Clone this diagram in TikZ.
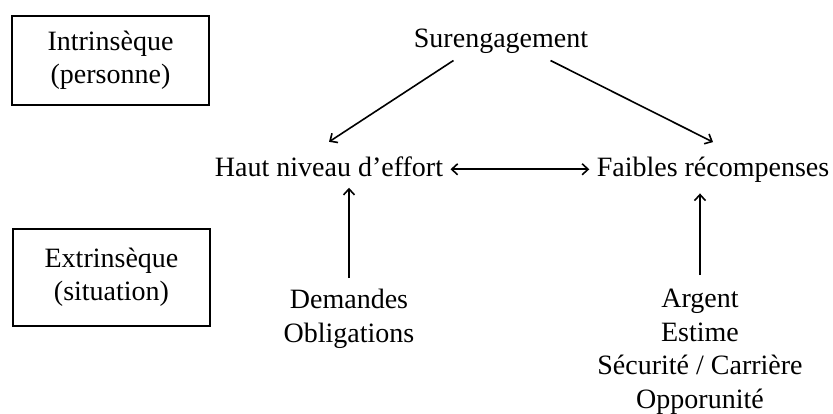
\documentclass[tikz,border=0pt]{standalone}
\usepackage{fontspec}
\setmainfont{Liberation Serif}
\usepackage{tikz}
\usetikzlibrary{arrows.meta}

\begin{document}
\begin{tikzpicture}[
                x=0.5pt,y=-0.5pt,
                line width=0.8pt,
                >={Straight Barb[length=3pt,width=5.5pt]},
                terme/.style={align=center,text=black,font=\fontsize{14}{16.7}\selectfont},
                cadre/.style={terme,draw,line width=1pt,minimum width=98.5pt,inner sep=0pt},
                fleche/.style={->,draw=black}] %

                    \useasboundingbox (0,0) rectangle (833,413);

                    % niveaux
                    \node[cadre,minimum height=44.5pt] (CadreA) at (110.5,60.5) {Intrinsèque\\(personne)}; % 1
                    \node[cadre,minimum height=48.5pt] (CadreB) at (111.5,277) {Extrinsèque\\(situation)}; % 2

                    % haut
                    \node[terme,anchor=base] (ArgumentS) at (501,47) {Surengagement}; % 1
                    \node[terme,anchor=base] (ArgumentA) at (329,176) {Haut niveau d’effort}; % 2
                    \node[terme,anchor=base] (ArgumentB) at (713,176) {Faibles récompenses}; % 3

                    \draw[fleche] ([xshift=23.5pt]ArgumentS.south west) to ([yshift=3.5pt]ArgumentA.north);
                    \draw[fleche] ([xshift=-22.5pt]ArgumentS.south east) to ([yshift=3.5pt]ArgumentB.north);
                    \draw[fleche,<->] ([yshift=-1.5pt]ArgumentA.east) to ([yshift=-1.5pt]ArgumentA.east -| ArgumentB.west);

                    % bas
                    \node[terme,anchor=north] (ArgumentC) at (349,282) {Demandes\\Obligations}; % 1
                    \node[terme,anchor=north] (ArgumentD) at (700,282) {Argent\\Estime\\Sécurité / Carrière\\Opporunité}; % 2

                    \draw[fleche] ([yshift=2pt]ArgumentC.north) to ([yshift=-2pt]ArgumentC.north |- ArgumentA.south);
                    \draw[fleche] ([yshift=3.5pt]ArgumentD.north) to ([yshift=-2pt]ArgumentD.north |- ArgumentB.south);

                    \end{tikzpicture}
\end{document}
